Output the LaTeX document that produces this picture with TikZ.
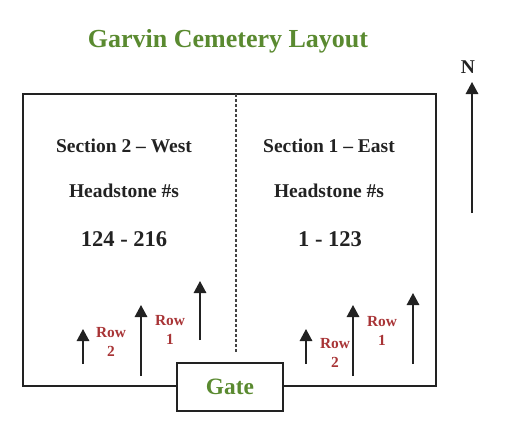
\documentclass[tikz,border=0pt]{standalone}
\usepackage{fontspec}
\setmainfont{Liberation Serif}
\usetikzlibrary{arrows.meta}
\definecolor{plangreen}{HTML}{5A8A30}
\definecolor{planred}{HTML}{A83436}
\definecolor{planline}{HTML}{222222}

\begin{document}
\begin{tikzpicture}[
  x=1pt, y=-1pt,
  >={Triangle[length=12pt,width=12.5pt]},
  headingtext/.style={font=\fontsize{26}{30}\selectfont\bfseries, text=plangreen, anchor=base},
  sectiontext/.style={font=\fontsize{19.5}{23}\selectfont\bfseries, text=planline, anchor=base, inner sep=0pt},
  numrange/.style={sectiontext, font=\fontsize{22.5}{26}\selectfont\bfseries},
  rowlab/.style={font=\fontsize{15.4}{19.5}\selectfont\bfseries, text=planred, align=center, inner sep=0pt},
  rowarrow/.style={->, line width=1.5pt, draw=planline},
  gatebox/.style={draw=planline, line width=1.5pt, fill=white, minimum width=106pt, minimum height=48pt,
    font=\fontsize{23.4}{27}\selectfont\bfseries, text=plangreen}
]
\useasboundingbox (0,0) rectangle (508,429);

\node[headingtext] (heading) at (228,47) {Garvin Cemetery Layout};

% cemetery outline and the line between the two sections
\draw[line width=1.5pt, draw=planline] (23,94) rectangle (436,386);
\draw[line width=1.1pt, draw=planline!85, dash pattern=on 3pt off 2pt] (236,94) -- (236,352);

\node[sectiontext] (westname) at (124,152) {Section 2 -- West};
\node[sectiontext] (westhead) at (124,197) {Headstone \#s};
\node[numrange] (westnums) at (124,246) {124 - 216};

\node[sectiontext] (eastname) at (329,152) {Section 1 -- East};
\node[sectiontext] (easthead) at (329,197) {Headstone \#s};
\node[numrange] (eastnums) at (330,246) {1 - 123};

% rows, west side
\draw[rowarrow] (83,364) -- (83,329);
\draw[rowarrow] (141,376) -- (141,305);
\draw[rowarrow] (200,340) -- (200,281);
\node[rowlab] (westrow2) at (111,342) {Row\\2};
\node[rowlab] (westrow1) at (170,330) {Row\\1};

% rows, east side
\draw[rowarrow] (306,364) -- (306,329);
\draw[rowarrow] (353,376) -- (353,305);
\draw[rowarrow] (413,364) -- (413,293);
\node[rowlab] (eastrow2) at (335,353) {Row\\2};
\node[rowlab] (eastrow1) at (382,331) {Row\\1};

\node[gatebox] (gate) at (230,387) {Gate};

% north
\node[sectiontext] (north) at (468,73) {N};
\draw[rowarrow] (472,213) -- (472,82);
\end{tikzpicture}
\end{document}
